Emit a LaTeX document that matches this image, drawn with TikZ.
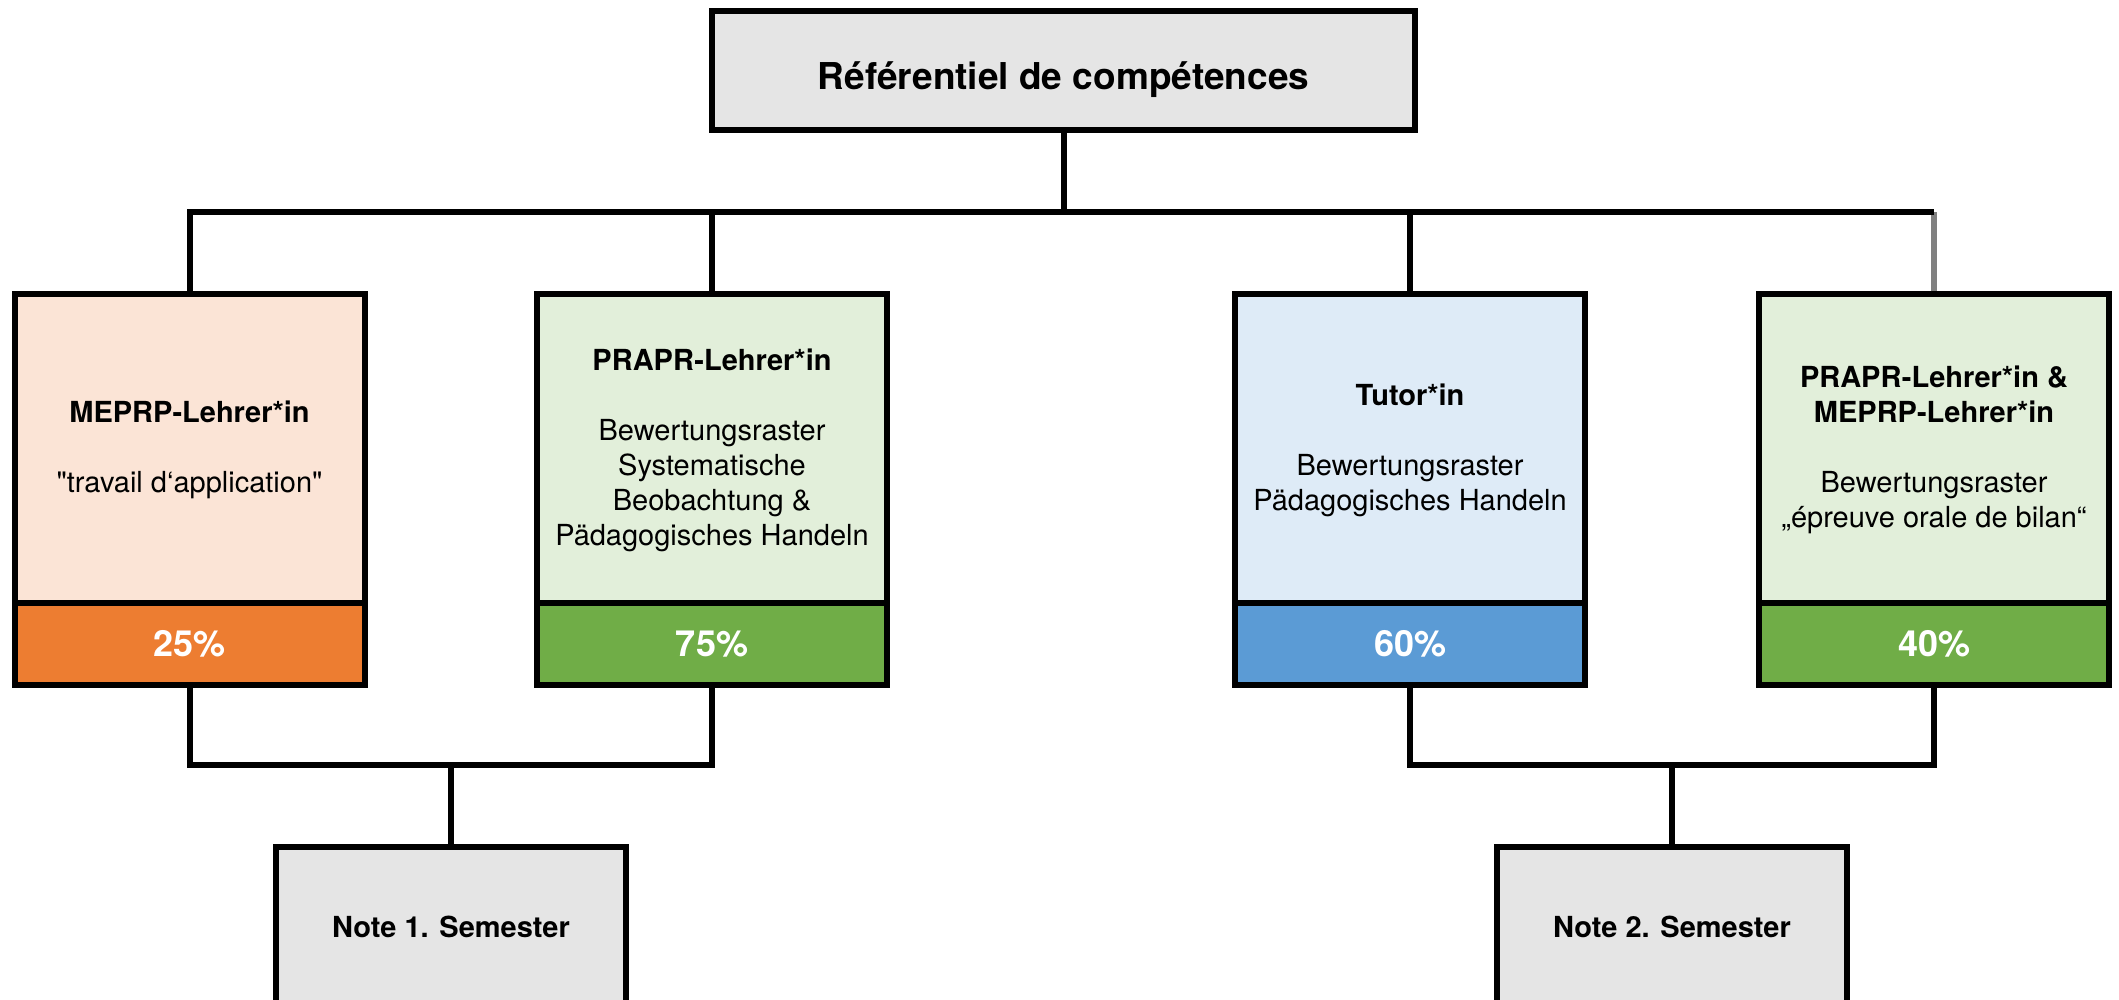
\documentclass[tikz,border=0pt]{standalone}
\usepackage{fontspec}
\setmainfont{TeX Gyre Heros}[Ligatures=TeXOff]
\definecolor{boxgray}{HTML}{E5E5E5}
\definecolor{paleorange}{HTML}{FBE4D6}
\definecolor{orangec}{HTML}{ED7D31}
\definecolor{palegreen}{HTML}{E2EFDA}
\definecolor{greenc}{HTML}{70AD47}
\definecolor{paleblue}{HTML}{DEEBF7}
\definecolor{bluec}{HTML}{5B9BD5}
\definecolor{stemgray}{HTML}{808080}
\begin{document}
\begin{tikzpicture}[x=1pt,y=-1pt,
  conn/.style={line width=6pt, draw=black},
  upbox/.style={draw=black, line width=6pt, minimum width=350pt, minimum height=312pt,
    inner sep=0pt, align=center, font=\fontsize{29}{35}\selectfont},
  pctbox/.style={draw=black, line width=6pt, minimum width=350pt, minimum height=82pt,
    inner sep=0pt, text=white, font=\fontsize{36}{40}\selectfont\bfseries},
  graybox/.style={draw=black, line width=6pt, fill=boxgray, inner sep=0pt,
    font=\fontsize{29}{35}\selectfont\bfseries}
]
\useasboundingbox (0,0) rectangle (2119,1000);
\clip (0,0) rectangle (2119,1000);

% top box
\node[graybox, minimum width=703pt, minimum height=119pt, text height=40pt, text depth=2pt,
  font=\fontsize{37}{42}\selectfont\bfseries] (top) at (1063.5,70.5) {Référentiel de compétences};

% upper boxes
\node[upbox, fill=paleorange] (b1u) at (189.5,450) {\textbf{MEPRP-Lehrer*in}\\[35pt]"travail d‘application"};
\node[pctbox, fill=orangec] (b1l) at (189.5,644) {25\%};

\node[upbox, fill=palegreen] (b2u) at (712,450) {\textbf{PRAPR-Lehrer*in}\\[35pt]Bewertungsraster\\Systematische\\Beobachtung \&\\Pädagogisches Handeln};
\node[pctbox, fill=greenc] (b2l) at (712,644) {75\%};

\node[upbox, fill=paleblue] (b3u) at (1410,450) {\textbf{Tutor*in}\\[35pt]Bewertungsraster\\Pädagogisches Handeln};
\node[pctbox, fill=bluec] (b3l) at (1410,644) {60\%};

\node[upbox, fill=palegreen] (b4u) at (1934,450) {\textbf{PRAPR-Lehrer*in \&}\\\textbf{MEPRP-Lehrer*in}\\[35pt]Bewertungsraster\\„épreuve orale de bilan“};
\node[pctbox, fill=greenc] (b4l) at (1934,644) {40\%};

% note boxes
\node[graybox, minimum width=350pt, minimum height=160pt] (n1) at (451,927) {Note 1. Semester};
\node[graybox, minimum width=350pt, minimum height=160pt] (n2) at (1672,927) {Note 2. Semester};

% connectors top
\coordinate (bus) at (1063.5,212);
\draw[conn] (top.south) -- (bus);
\draw[conn] (b1u.north) |- (bus);
\draw[conn] (b2u.north) |- (bus);
\draw[conn] (b3u.north) |- (bus);
\coordinate (b4top) at (b4u.north |- bus);
\draw[conn, draw=stemgray] (b4u.north) -- (b4top);
\draw[conn] (b4top) -- (bus);

% connectors bottom
\coordinate (j1) at (451,765);
\coordinate (j2) at (1672,765);
\draw[conn] (b1l.south) |- (j1);
\draw[conn] (b2l.south) |- (j1);
\draw[conn] (j1) -- (n1.north);
\draw[conn] (b3l.south) |- (j2);
\draw[conn] (b4l.south) |- (j2);
\draw[conn] (j2) -- (n2.north);
\end{tikzpicture}
\end{document}
